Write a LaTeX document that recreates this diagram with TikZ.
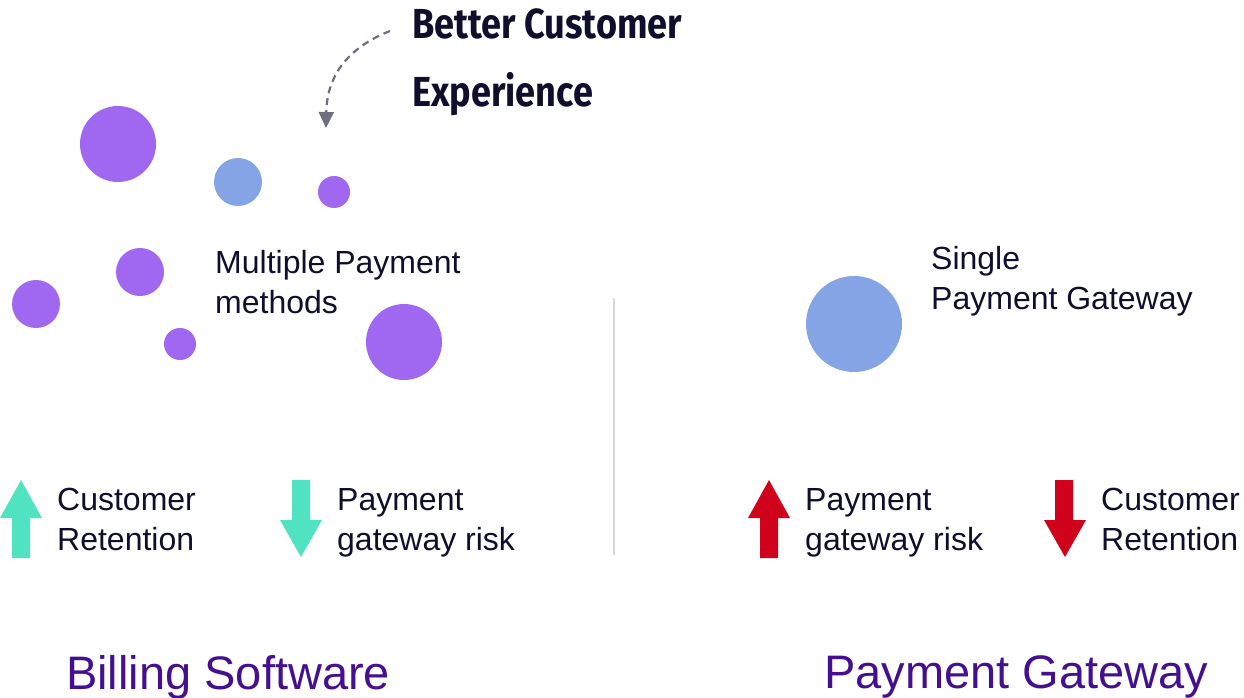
\documentclass[tikz,border=0pt]{standalone}
\usepackage{fontspec}
\setmainfont{Liberation Sans}
\newfontfamily\handfont[FakeStretch=0.86]{Fira Sans}
\usetikzlibrary{arrows.meta}

\definecolor{dotpurple}{HTML}{A068F0}
\definecolor{dotblue}{HTML}{84A4E6}
\definecolor{upteal}{HTML}{50E3C2}
\definecolor{downred}{HTML}{D0021B}
\definecolor{titleviolet}{HTML}{45108F}
\definecolor{inkblue}{HTML}{0F0F2D}
\definecolor{hintgray}{HTML}{6E6E80}

\begin{document}
\begin{tikzpicture}[x=1pt,y=-1pt]
				\tikzstyle{dot}=[circle,inner sep=0pt,draw=none]
				\tikzstyle{label}=[anchor=north west,inner sep=0pt,align=left,text=inkblue,font=\fontsize{32}{40}\selectfont]
				\tikzstyle{heading}=[anchor=north west,inner sep=0pt,text=titleviolet,font=\fontsize{47}{50}\selectfont]
				\useasboundingbox (0,0) rectangle (1244,698);
				% many payment methods
				\node[dot,fill=dotpurple,minimum size=76pt] (m1) at (118,144) {};
				\node[dot,fill=dotblue,minimum size=48pt] (m2) at (238,182) {};
				\node[dot,fill=dotpurple,minimum size=32pt] (m3) at (334,192) {};
				\node[dot,fill=dotpurple,minimum size=48pt] (m4) at (140,272) {};
				\node[dot,fill=dotpurple,minimum size=48pt] (m5) at (36,304) {};
				\node[dot,fill=dotpurple,minimum size=32pt] (m6) at (180,344) {};
				\node[dot,fill=dotpurple,minimum size=76pt] (m7) at (404,342) {};
				\node[label] (multi) at (215,250) {Multiple Payment\\methods};
				% one gateway
				\node[dot,fill=dotblue,minimum size=96pt] (g1) at (854,324) {};
				\node[label] (single) at (931,246) {Single\\Payment Gateway};
				% hint
				\node[anchor=north west,inner sep=0pt,align=left,text=inkblue,font=\handfont\bfseries\fontsize{42}{68}\selectfont] (hint) at (412,8) {Better Customer\\Experience};
				\coordinate (hintfrom) at (390,31);
				\coordinate (hintto) at (326,128);
				\draw[hintgray,line width=2.2pt,dash pattern=on 7pt off 5pt,-{Triangle[length=16pt,width=15pt]}] (hintfrom) .. controls (352,46) and (327,72) .. (hintto);
				% divider
				\coordinate (divtop) at (614,298);
				\coordinate (divbot) at (614,555);
				\draw[gray!30,line width=1.2pt] (divtop) -- (divbot);
				% up and down arrows
				\fill[upteal] (12,558) -- (12,518) -- (0,518) -- (21,480) -- (42,518) -- (30,518) -- (30,558) -- cycle;
				\fill[upteal] (292,480) -- (292,520) -- (280,520) -- (301,557) -- (322,520) -- (310,520) -- (310,480) -- cycle;
				\fill[downred] (760,558) -- (760,518) -- (748,518) -- (769,480) -- (790,518) -- (778,518) -- (778,558) -- cycle;
				\fill[downred] (1055,480) -- (1055,520) -- (1044,520) -- (1065,557) -- (1086,520) -- (1073,520) -- (1073,480) -- cycle;
				\node[label] (retleft) at (57,488) {Customer\\Retention};
				\node[label] (riskleft) at (337,488) {Payment\\gateway risk};
				\node[label] (riskright) at (805,488) {Payment\\gateway risk};
				\node[label] (retright) at (1101,488) {Customer\\Retention};
				% titles
				\node[heading] (billing) at (66,655) {Billing Software};
				\node[heading] (gateway) at (824,655) {Payment Gateway};
\end{tikzpicture}
\end{document}
